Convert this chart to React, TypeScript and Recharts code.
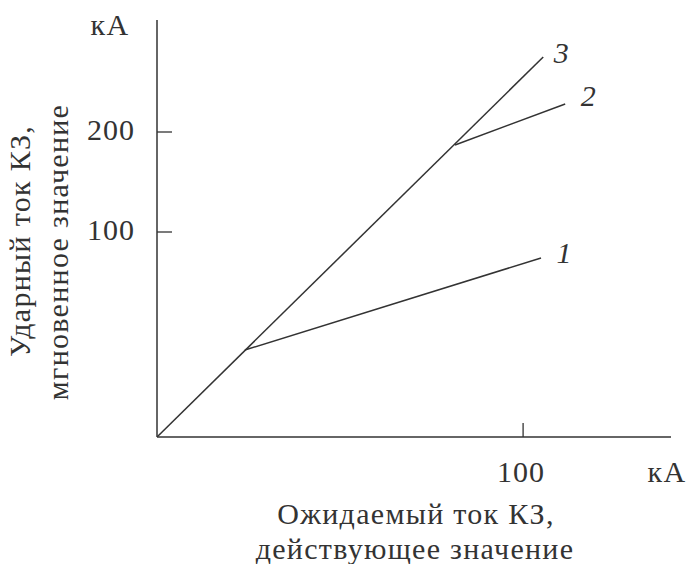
import React from 'react';
import { LineChart, Line, XAxis, YAxis, Label } from 'recharts';

// ожидаемый ток (кА, действ.) -> ударный ток (кА, мгновенное)
const curve1 = [
  { x: 24, y: -18 },
  { x: 104.9, y: 74 },
];
const curve2 = [
  { x: 81.4, y: 187 },
  { x: 111.5, y: 228 },
];
const curve3 = [
  { x: 0, y: -105 },
  { x: 105.5, y: 275 },
];
const curveNames = ['1', '2', '3'];
const xTicks = [100];
const yTicks = [100, 200];

const FONT = '"Liberation Serif", "DejaVu Serif", serif';
const INK = '#333';

const XTick = (props: any) => {
  const { x, y, payload } = props;
  return (
    <g>
      <line x1={x} y1={y} x2={x} y2={y - 14} stroke={INK} strokeWidth={1.3} />
      <text x={x - 2} y={y + 38} textAnchor="middle" dominantBaseline="middle" fontFamily={FONT} fontSize={30} letterSpacing={1} fill={INK}>
        {payload.value}
      </text>
    </g>
  );
};

const YTick = (props: any) => {
  const { x, y, payload } = props;
  return (
    <g>
      <line x1={x} y1={y} x2={x + 15} y2={y} stroke={INK} strokeWidth={1.3} />
      <text x={x - 22} y={y + 1} textAnchor="end" dominantBaseline="middle" fontFamily={FONT} fontSize={30} letterSpacing={1} fill={INK}>
        {payload.value}
      </text>
    </g>
  );
};

const makeEndLabel = (name: string, dx: number, dy: number) => (props: any) => {
  const { x, y, index } = props;
  if (index !== 1) return null;
  return (
    <text x={x + dx} y={y + dy} textAnchor="middle" dominantBaseline="middle" fontFamily={FONT} fontStyle="italic" fontSize={30} fill={INK}>
      {name}
    </text>
  );
};

const XTitle = (props: any) => {
  const { viewBox } = props;
  const right = viewBox.x + viewBox.width;
  return (
    <g fontFamily={FONT} fill={INK} fontSize={30} letterSpacing={1.3}>
      <text x={right - 4} y={viewBox.y + 38} textAnchor="middle" dominantBaseline="middle">кА</text>
      <text x={416} y={viewBox.y + 80} textAnchor="middle" dominantBaseline="middle">Ожидаемый ток КЗ,</text>
      <text x={415} y={viewBox.y + 115} textAnchor="middle" dominantBaseline="middle">действующее значение</text>
    </g>
  );
};

const YTitle = () => (
  <g fontFamily={FONT} fill={INK} fontSize={30} letterSpacing={1.3}>
    <text x={110} y={28} textAnchor="middle" dominantBaseline="middle">кА</text>
    <text x={23} y={241} textAnchor="middle" dominantBaseline="middle" transform="rotate(-90 23 241)">
      Ударный ток КЗ,
    </text>
    <text x={61} y={252} textAnchor="middle" dominantBaseline="middle" transform="rotate(-90 61 252)">
      мгновенное значение
    </text>
  </g>
);

const App = () => {
  const series = [curve1, curve2, curve3];
  const offsets = [
    [23, -2],
    [23, -5],
    [18, -1],
  ];
  return (
    <div style={{ position: 'absolute', left: 0, top: 0, background: '#fff' }}>
      <LineChart width={686} height={564} margin={{ top: 20, right: 15, bottom: 97, left: 97 }}>
        <XAxis
          type="number"
          dataKey="x"
          domain={[0, 140.4]}
          ticks={xTicks}
          tick={<XTick />}
          tickLine={false}
          tickSize={0}
          tickMargin={0}
          height={30}
          axisLine={{ stroke: INK, strokeWidth: 1.5 }}
          allowDataOverflow
        >
          <Label content={<XTitle />} />
        </XAxis>
        <YAxis
          type="number"
          dataKey="y"
          domain={[-105, 312]}
          ticks={yTicks}
          tick={<YTick />}
          tickLine={false}
          tickSize={0}
          tickMargin={0}
          width={60}
          axisLine={{ stroke: INK, strokeWidth: 1.5 }}
          allowDataOverflow
        >
          <Label content={<YTitle />} />
        </YAxis>
        {series.map((data, i) => (
          <Line
            key={curveNames[i]}
            data={data}
            dataKey="y"
            type="linear"
            stroke={INK}
            strokeWidth={1.5}
            dot={false}
            isAnimationActive={false}
            label={makeEndLabel(curveNames[i], offsets[i][0], offsets[i][1])}
          />
        ))}
      </LineChart>
    </div>
  );
};

export default App;
